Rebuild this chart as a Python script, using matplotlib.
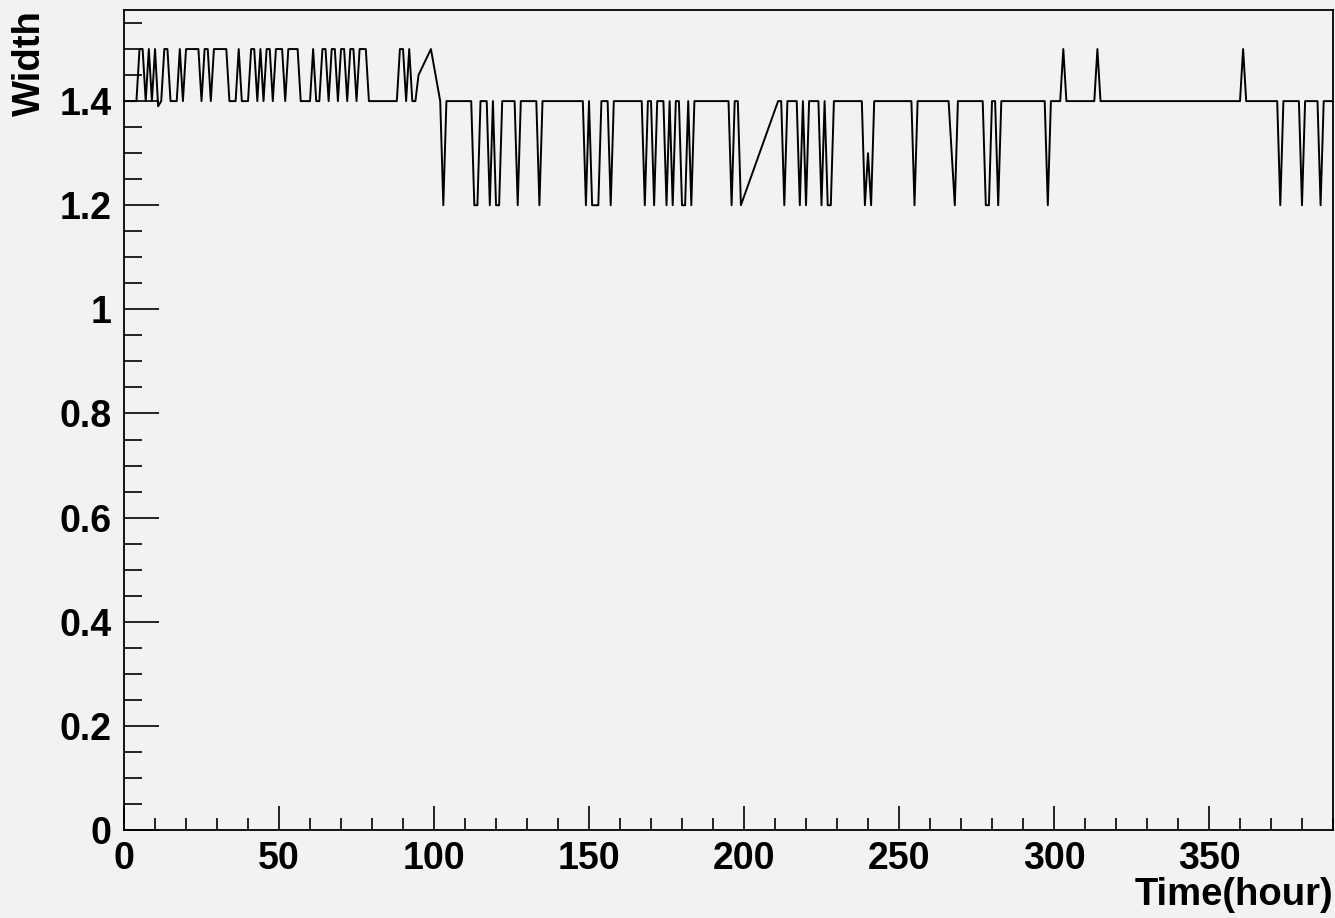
import matplotlib
matplotlib.use("Agg")
import matplotlib.pyplot as plt
from matplotlib.ticker import MultipleLocator, FuncFormatter

# sample times (hours), with the gaps seen in the picture
hours = list(range(0, 96)) + [99] + list(range(102, 200)) + list(range(211, 391))

base_width = 1.4
# hours where the width jumps to 1.5
hi_hours = [5, 6, 8, 10, 13, 14, 18, 20, 21, 22, 23, 24, 26, 27, 29, 30, 31, 32, 33,
            37, 41, 42, 44, 46, 47, 49, 50, 51, 53, 54, 55, 56, 61, 64, 65, 67,
            68, 70, 71, 73, 74, 76, 77, 78, 89, 90, 92, 99, 303, 314, 361]
# hours where the width drops to 1.2
lo_hours = [103, 113, 114, 118, 120, 121, 127, 134, 149, 151, 152, 153, 157,
            168, 171, 175, 177, 180, 181, 183, 196, 199, 213, 218, 220, 225,
            227, 228, 239, 241, 255, 268, 278, 279, 282, 298, 373, 380, 386]
# odd values
other_vals = {11: 1.39, 95: 1.45, 240: 1.3, 267: 1.3}

width = []
for h in hours:
    if h in other_vals:
        width.append(other_vals[h])
    elif h in hi_hours:
        width.append(1.5)
    elif h in lo_hours:
        width.append(1.2)
    else:
        width.append(base_width)

bg = "#f2f2f2"
plt.rcParams['font.family'] = ['Liberation Sans', 'DejaVu Sans']
plt.rcParams['font.weight'] = 'bold'

fig = plt.figure(figsize=(13.35, 9.18), dpi=100, facecolor=bg)
ax = fig.add_axes([0.0929, 0.0959, 0.9056, 0.8932])
ax.set_facecolor(bg)

ax.plot(hours, width, color="black", lw=1.4)

ax.set_xlim(0, 390)
ax.set_ylim(0, 1.575)

ax.xaxis.set_major_locator(MultipleLocator(50))
ax.xaxis.set_minor_locator(MultipleLocator(10))
ax.yaxis.set_major_locator(MultipleLocator(0.2))
ax.yaxis.set_minor_locator(MultipleLocator(0.05))

def fmt(v, pos):
    s = "%.1f" % v
    if s.endswith(".0"):
        s = s[:-2]
    return s

ax.xaxis.set_major_formatter(FuncFormatter(lambda v, p: "%d" % v))
ax.yaxis.set_major_formatter(FuncFormatter(fmt))

ax.tick_params(axis='x', which='major', direction='in', length=17.3, width=1.2,
               labelsize=27, pad=8)
ax.tick_params(axis='x', which='minor', direction='in', length=8.6, width=1.2)
ax.tick_params(axis='y', which='major', direction='in', length=25.2, width=1.2,
               labelsize=27, pad=9)
ax.tick_params(axis='y', which='minor', direction='in', length=12.6, width=1.2)
for lab in ax.get_xticklabels() + ax.get_yticklabels():
    lab.set_fontweight('bold')

for s in ax.spines.values():
    s.set_linewidth(1.3)

ax.set_xlabel("Time(hour)", fontsize=27.5, fontweight='bold', loc='right', labelpad=0)
ax.set_ylabel("Width", fontsize=27.5, fontweight='bold', loc='top', labelpad=8)

fig.savefig("out.png", dpi=100, facecolor=bg)
